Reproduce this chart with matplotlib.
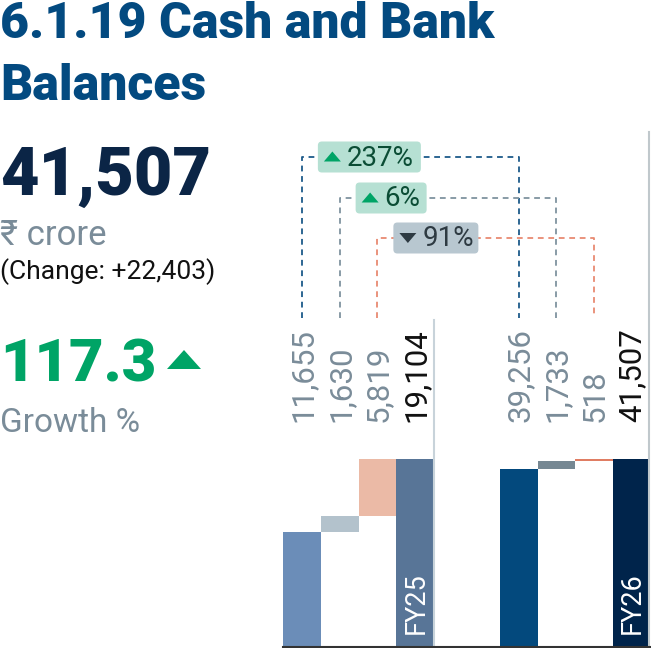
import matplotlib
matplotlib.use("Agg")
import matplotlib.pyplot as plt
from matplotlib.patches import FancyBboxPatch, Polygon

# ---- data ----
fy25_labels = ["11,655", "1,630", "5,819", "19,104"]
fy25_values = [11655, 1630, 5819, 19104]
fy26_labels = ["39,256", "1,733", "518", "41,507"]
fy26_values = [39256, 1733, 518, 41507]
period_labels = ["FY25", "FY26"]
changes = ["237%", "6%", "91%"]
change_up = [True, True, False]

fy25_colors = ["#6b8db8", "#b3c2cc", "#ebbaa6", "#587597"]
fy26_colors = ["#03497d", "#768893", "#e07d63", "#00244b"]
line_colors = ["#1d5a8a", "#7f939f", "#e88a72"]
box_colors = ["#b6e0d3", "#b6e0d3", "#b8c7d0"]
box_text_colors = ["#0b4d35", "#0b4d35", "#2e3a42"]
tri_colors = ["#00a466", "#00a466", "#2e3a42"]

W, H = 651, 648
fig = plt.figure(figsize=(W / 100, H / 100), dpi=100)
FONT = ["Roboto", "DejaVu Sans"]


def waterfall(ax, values, colors):
    comps = values[:-1]
    bottoms = []
    run = 0
    for v in comps:
        bottoms.append(run)
        run += v
    bottoms.append(0)
    ax.bar(range(len(values)), values, bottom=bottoms, width=1.0,
           color=colors, edgecolor="none")
    ax.set_xlim(-0.5, len(values) - 0.5)
    ax.set_ylim(0, values[-1])
    ax.axis("off")


bar_h = 187
axL = fig.add_axes([283 / W, 2 / H, 151 / W, bar_h / H])
axR = fig.add_axes([500 / W, 2 / H, 150 / W, bar_h / H])
waterfall(axL, fy25_values, fy25_colors)
waterfall(axR, fy26_values, fy26_colors)

# overlay axes in pixel coordinates (y from top), drawn above the bars
ax0 = fig.add_axes([0, 0, 1, 1])
ax0.set_xlim(0, W)
ax0.set_ylim(H, 0)
ax0.axis("off")
ax0.set_zorder(10)
ax0.patch.set_alpha(0)


def cx(ax, i):
    return ax.transData.transform((i, 0))[0]


# value labels
for ax, labels in ((axL, fy25_labels), (axR, fy26_labels)):
    for i, lab in enumerate(labels):
        col = "#111111" if i == len(labels) - 1 else "#7a8c99"
        ax0.text(cx(ax, i) + 1, 422, lab, rotation=90, ha="center", va="bottom",
                 fontsize=22.5, color=col, family=FONT)

# period labels inside total bars
n = len(fy25_values) - 1
for ax, lab in ((axL, period_labels[0]), (axR, period_labels[1])):
    ax0.text(cx(ax, n) + 1, 634, lab, rotation=90, ha="center", va="bottom",
             fontsize=19.5, color="white", family=FONT)

# separators and baseline
ax0.plot([434, 434], [320, 646], color="#c8d3da", lw=1.5, zorder=1)
ax0.plot([649, 649], [132, 646], color="#c0c8cc", lw=1.5, zorder=1)
ax0.plot([283, 651], [646.5, 646.5], color="#333333", lw=1.5, zorder=5)

# connectors with change boxes
levels = [157, 198, 238]
box_w = [103, 71, 85]
for k in range(3):
    x1 = cx(axL, k)
    x2 = cx(axR, k)
    y = levels[k]
    ax0.plot([x1, x1, x2, x2], [318, y, y, 318], color=line_colors[k],
             lw=1.3, ls=(0, (3.2, 2.6)), zorder=2)
    bx = x1 + 16
    ax0.add_patch(FancyBboxPatch((bx, y - 15.5), box_w[k], 31,
                                 boxstyle="round,pad=0,rounding_size=4",
                                 fc=box_colors[k], ec="none", zorder=3))
    tx = bx + 6
    if change_up[k]:
        pts = [(tx, y + 4.5), (tx + 17, y + 4.5), (tx + 8.5, y - 5.5)]
    else:
        pts = [(tx, y - 5), (tx + 17, y - 5), (tx + 8.5, y + 5)]
    ax0.add_patch(Polygon(pts, closed=True, fc=tri_colors[k], ec="none",
                          zorder=4))
    ax0.text(bx + 29, y + 1, changes[k], ha="left", va="center",
             fontsize=20, color=box_text_colors[k], family=FONT, zorder=4)

# left-hand text block
ax0.text(0, 38, "6.1.19 Cash and Bank", fontsize=36, fontweight="black",
         color="#034a80", family=FONT, va="baseline", ha="left")
ax0.text(0, 100, "Balances", fontsize=36, fontweight="black",
         color="#034a80", family=FONT, va="baseline", ha="left")
ax0.text(0, 195, "41,507", fontsize=48, fontweight="black",
         color="#0b2546", family=FONT, va="baseline", ha="left")
ax0.text(0, 245, "₹ crore", fontsize=25, color="#7a8c99",
         family=FONT, va="baseline", ha="left")
ax0.text(0, 279, "(Change: +22,403)", fontsize=19, color="#111111",
         family=FONT, va="baseline", ha="left")
ax0.text(0, 382, "117.3", fontsize=43, fontweight="black",
         color="#00a466", family=FONT, va="baseline", ha="left")
ax0.add_patch(Polygon([(167, 369), (201, 369), (184, 350)], closed=True,
                      fc="#00a466", ec="none"))
ax0.text(0, 432, "Growth %", fontsize=24, color="#7a8c99",
         family=FONT, va="baseline", ha="left")

fig.savefig("out.png", dpi=100)
